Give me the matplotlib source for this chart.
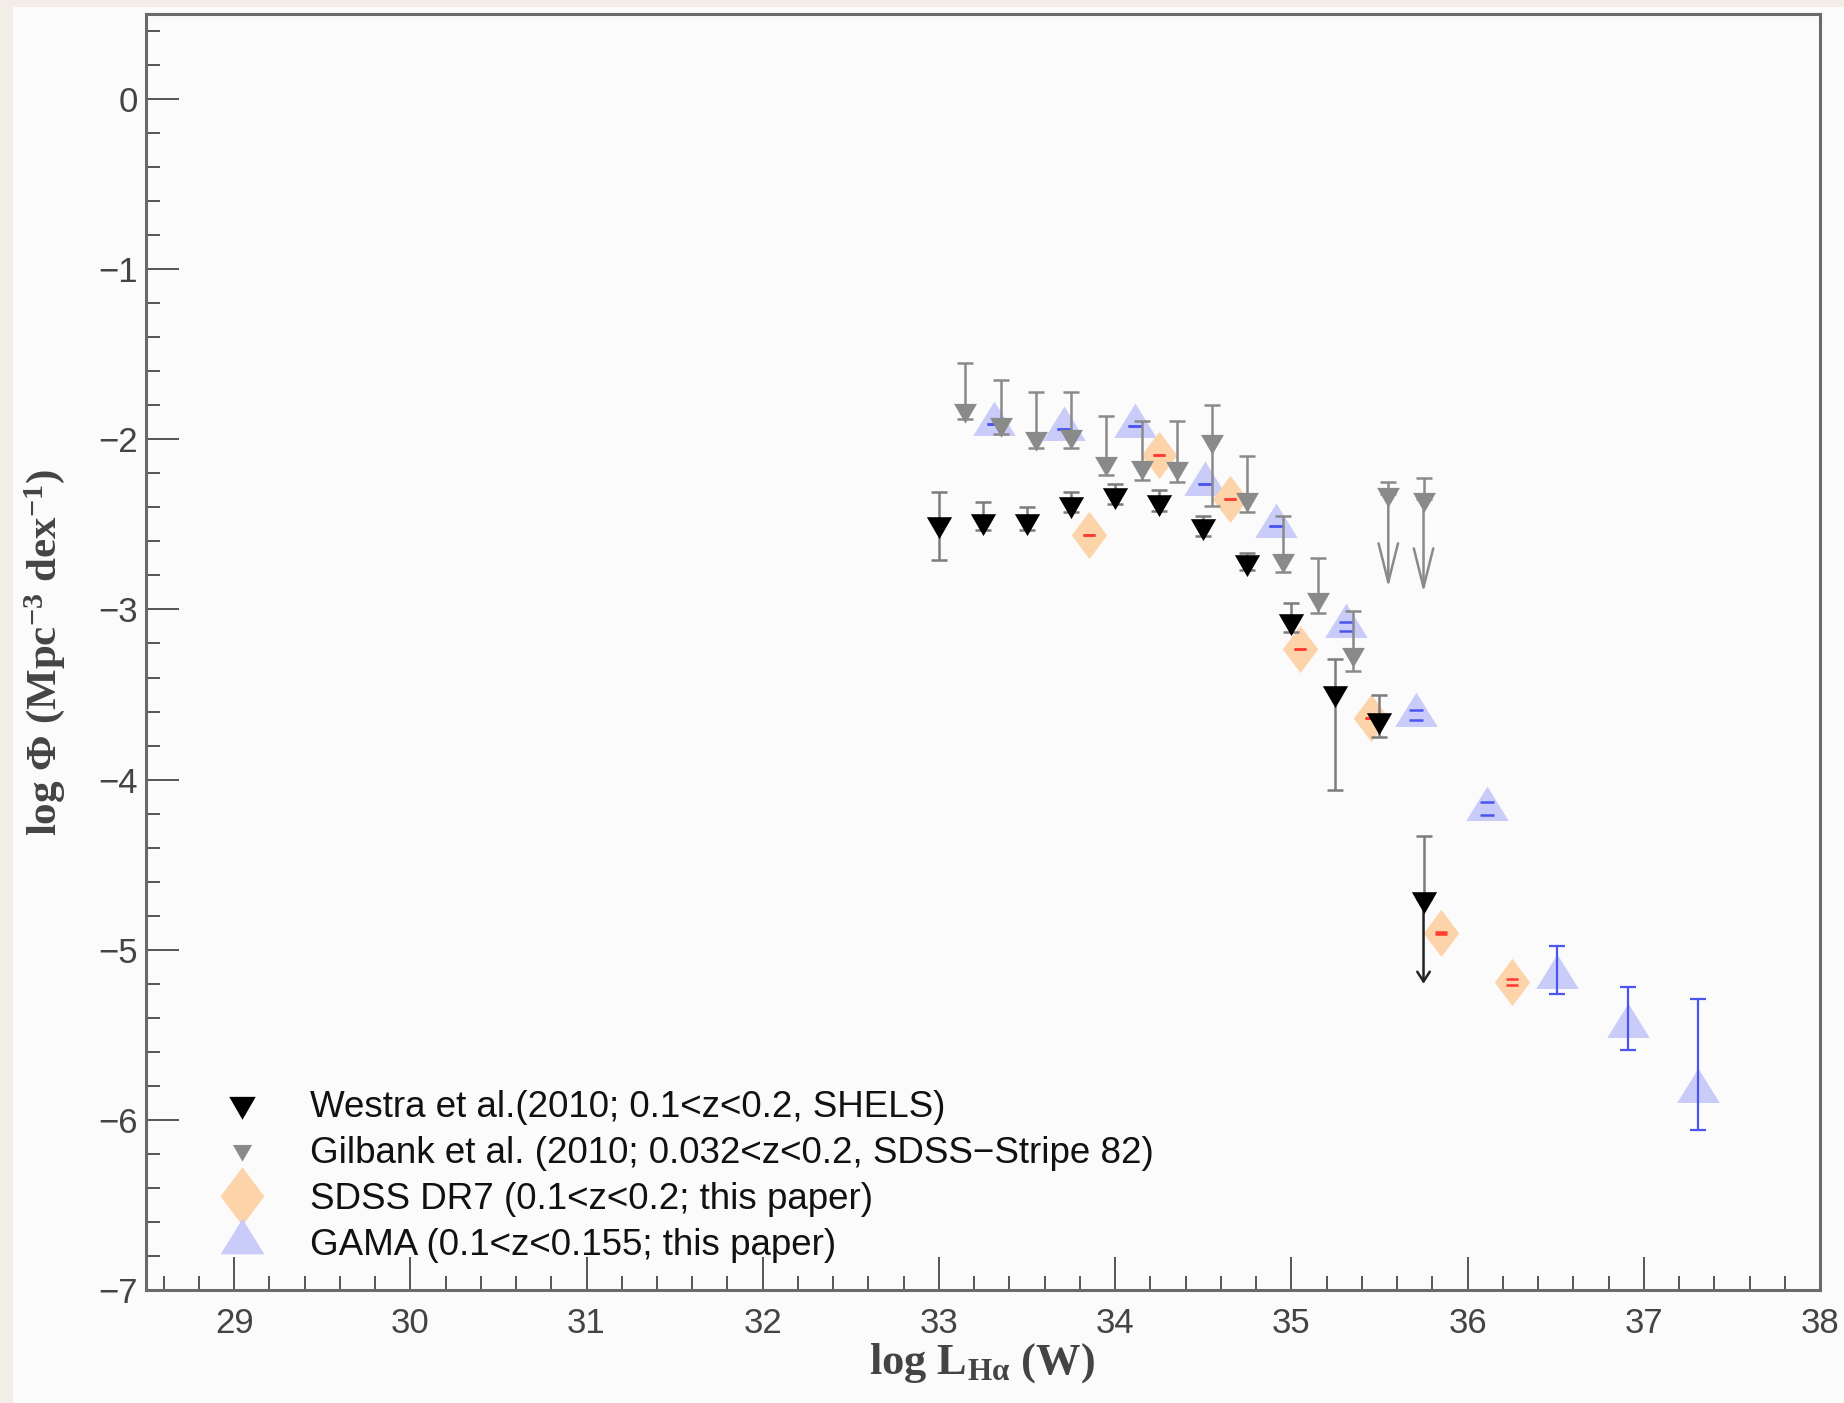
import numpy as np
import matplotlib
matplotlib.use('Agg')
import matplotlib.pyplot as plt
from matplotlib.lines import Line2D
from matplotlib.patches import Rectangle

plt.rcParams['font.family'] = ['Liberation Sans', 'DejaVu Sans']
plt.rcParams['mathtext.fontset'] = 'custom'
plt.rcParams['mathtext.rm'] = 'Liberation Serif:bold'
plt.rcParams['mathtext.it'] = 'Liberation Serif:bold'
plt.rcParams['mathtext.bf'] = 'Liberation Serif:bold'

# Westra et al. (2010)
westra_x = np.array([33.0, 33.25, 33.5, 33.75, 34.0, 34.25, 34.5, 34.75, 35.0, 35.25, 35.5])
westra_y = np.array([-2.50, -2.48, -2.48, -2.38, -2.33, -2.37, -2.51, -2.72, -3.07, -3.49, -3.65])
westra_up = np.array([0.19, 0.11, 0.08, 0.07, 0.07, 0.07, 0.06, 0.05, 0.11, 0.20, 0.15])
westra_dn = np.array([0.21, 0.05, 0.05, 0.05, 0.05, 0.05, 0.06, 0.05, 0.06, 0.57, 0.10])
# last Westra point is an upper limit
westra_lim_x = np.array([35.75])
westra_lim_y = np.array([-4.70])
westra_lim_up = np.array([0.37])
westra_lim_tip = np.array([-5.20])

# Gilbank et al. (2010)
gil_x = np.array([33.15, 33.35, 33.55, 33.75, 33.95, 34.15, 34.35, 34.55, 34.75, 34.95, 35.15, 35.35])
gil_y = np.array([-1.83, -1.91, -1.99, -1.98, -2.14, -2.16, -2.17, -2.01, -2.35, -2.71, -2.94, -3.26])
gil_top = np.array([-1.55, -1.65, -1.72, -1.72, -1.86, -1.89, -1.89, -1.80, -2.10, -2.45, -2.70, -3.01])
gil_bot = np.array([-1.88, -1.97, -2.05, -2.05, -2.21, -2.24, -2.25, -2.39, -2.43, -2.78, -3.02, -3.36])
gil_lim_x = np.array([35.55, 35.75])
gil_lim_y = np.array([-2.32, -2.35])
gil_lim_top = np.array([-2.25, -2.23])
gil_lim_tip = np.array([-2.87, -2.90])

# SDSS DR7 (this paper)
sdss_x = np.array([33.85, 34.25, 34.65, 35.05, 35.45, 35.85, 36.25])
sdss_y = np.array([-2.56, -2.09, -2.35, -3.23, -3.64, -4.90, -5.19])
sdss_err = np.array([0.0, 0.0, 0.0, 0.0, 0.0, 0.005, 0.02])

# GAMA (this paper)
gama_x = np.array([33.31, 33.71, 34.11, 34.51, 34.91, 35.31, 35.71, 36.11, 36.51, 36.91, 37.31])
gama_y = np.array([-1.91, -1.94, -1.92, -2.26, -2.51, -3.10, -3.62, -4.17, -5.16, -5.45, -5.83])
gama_up = np.array([0.0, 0.0, 0.0, 0.0, 0.0, 0.025, 0.03, 0.04, 0.18, 0.23, 0.54])
gama_dn = np.array([0.0, 0.0, 0.0, 0.0, 0.0, 0.025, 0.03, 0.04, 0.10, 0.14, 0.23])

labels = ['Westra et al.(2010; 0.1<z<0.2, SHELS)',
          'Gilbank et al. (2010; 0.032<z<0.2, SDSS\u2212Stripe 82)',
          'SDSS DR7 (0.1<z<0.2; this paper)',
          'GAMA (0.1<z<0.155; this paper)']

# markers centred on the centroid, like the original plot
tri_down = [(0, -1), (-0.866, 0.5), (0.866, 0.5), (0, -1)]
tri_up = [(0, 1), (-0.927, -0.5), (0.927, -0.5), (0, 1)]
diamond = [(0, 1), (0.75, 0), (0, -1), (-0.75, 0), (0, 1)]

c_gama = '#c9cbf8'
c_sdss = '#fdd3aa'
c_gray = '#8a8a8a'

fig = plt.figure(figsize=(18.44, 14.03), dpi=100)
fig.patch.set_facecolor('#f2eee7')
fig.add_artist(Rectangle((13 / 1844, 0), 1, 1 - 7 / 1403, transform=fig.transFigure,
                         facecolor='#fbfbfb', edgecolor='none', zorder=-10))
ax = fig.add_axes([146 / 1844, 1 - 1290 / 1403, 1674 / 1844, 1276 / 1403])
ax.set_facecolor('#fbfbfb')

# GAMA: tiny errors show only as caps, big ones as full bars
big = (gama_up + gama_dn) > 0.1
ax.plot(gama_x, gama_y, ls='none', marker=tri_up, ms=33, color=c_gama, mec='none', zorder=1)
ax.errorbar(gama_x[big], gama_y[big], yerr=[gama_dn[big], gama_up[big]], fmt='none',
            ecolor='#4a55f0', elinewidth=1.6, capsize=6, capthick=1.6, zorder=2)
ax.errorbar(gama_x[~big], gama_y[~big], yerr=[gama_dn[~big], gama_up[~big]], fmt='none',
            ecolor='#4a55f0', elinewidth=0, capsize=5, capthick=1.8, zorder=2)

# SDSS
ax.plot(sdss_x, sdss_y, ls='none', marker=diamond, ms=34, color=c_sdss, mec='none', zorder=3)
ax.errorbar(sdss_x, sdss_y, yerr=sdss_err, fmt='none', ecolor='#ff3b2f',
            elinewidth=0, capsize=4.5, capthick=1.8, zorder=4)

# Gilbank
ax.errorbar(gil_x, gil_y, yerr=[gil_y - gil_bot, gil_top - gil_y], fmt='none', ecolor=c_gray,
            elinewidth=1.8, capsize=6, capthick=1.8, zorder=5)
ax.errorbar(gil_lim_x, gil_lim_y, yerr=[np.zeros(2), gil_lim_top - gil_lim_y], fmt='none',
            ecolor=c_gray, elinewidth=1.8, capsize=6, capthick=1.8, zorder=5)
for x0, y0, yt in zip(gil_lim_x, gil_lim_y, gil_lim_tip):
    ax.annotate('', xy=(x0, yt), xytext=(x0, y0),
                arrowprops=dict(arrowstyle='->,head_length=2.8,head_width=0.7',
                                color=c_gray, lw=1.8, shrinkA=0, shrinkB=0), zorder=5)
ax.plot(np.concatenate([gil_x, gil_lim_x]), np.concatenate([gil_y, gil_lim_y]), ls='none',
        marker=tri_down, ms=19, color=c_gray, mec='none', zorder=6)

# Westra
ax.errorbar(westra_x, westra_y, yerr=[westra_dn, westra_up], fmt='none', ecolor='#7c7c7c',
            elinewidth=1.8, capsize=6, capthick=1.8, zorder=7)
ax.errorbar(westra_lim_x, westra_lim_y, yerr=[np.zeros(1), westra_lim_up], fmt='none',
            ecolor='#7c7c7c', elinewidth=1.8, capsize=6, capthick=1.8, zorder=7)
for x0, y0, yt in zip(westra_lim_x, westra_lim_y, westra_lim_tip):
    ax.annotate('', xy=(x0, yt), xytext=(x0, y0),
                arrowprops=dict(arrowstyle='->,head_length=0.7,head_width=0.45',
                                color='#222222', lw=1.8, shrinkA=0, shrinkB=0), zorder=7)
ax.plot(np.concatenate([westra_x, westra_lim_x]), np.concatenate([westra_y, westra_lim_y]),
        ls='none', marker=tri_down, ms=21, color='black', mec='none', zorder=8)

ax.set_xlim(28.5, 38.0)
ax.set_ylim(-7.0, 0.5)
ax.set_xticks(np.arange(29, 39, 1))
ax.set_xticks(np.arange(28.6, 38.0, 0.2), minor=True)
ax.set_yticks(np.arange(-7, 1, 1))
ax.set_yticks(np.arange(-7, 0.55, 0.2), minor=True)

for s in ax.spines.values():
    s.set_color('#6a6a6a')
    s.set_linewidth(2.2)
ax.tick_params(which='major', direction='in', length=24, width=1.4, color='#555555',
               labelsize=25, labelcolor='#444444')
ax.tick_params(which='minor', direction='in', length=10, width=1.4, color='#555555')
ax.tick_params(axis='y', which='major', pad=6)
ax.tick_params(axis='x', which='major', pad=12)

fig.text(45 / 1844, 1 - 653 / 1403, 'log $\\Phi$ (Mpc$^{-3}$ dex$^{-1}$)', rotation=90,
         ha='center', va='center', fontsize=31, color='#444444',
         family='Liberation Serif', fontweight='bold')
fig.text(982 / 1844, 1 - 1374 / 1403, 'log L$_{\\mathrm{H\u03b1}}$ (W)', ha='center',
         va='baseline', fontsize=32, color='#444444', family='Liberation Serif',
         fontweight='bold')

handles = [
    Line2D([], [], ls='none', marker=tri_down, ms=22, color='black', mec='none'),
    Line2D([], [], ls='none', marker=tri_down, ms=16, color=c_gray, mec='none'),
    Line2D([], [], ls='none', marker=diamond, ms=42, color=c_sdss, mec='none'),
    Line2D([], [], ls='none', marker=tri_up, ms=34, color=c_gama, mec='none'),
]
leg = ax.legend(handles, labels, loc='lower left', bbox_to_anchor=(0.044, 0.021),
                frameon=False, fontsize=26.5, handlelength=1.2, handletextpad=1.25,
                labelspacing=0.30, borderpad=0, borderaxespad=0)
for t in leg.get_texts():
    t.set_color('#111111')

fig.savefig('out.png', dpi=100, facecolor=fig.get_facecolor())
